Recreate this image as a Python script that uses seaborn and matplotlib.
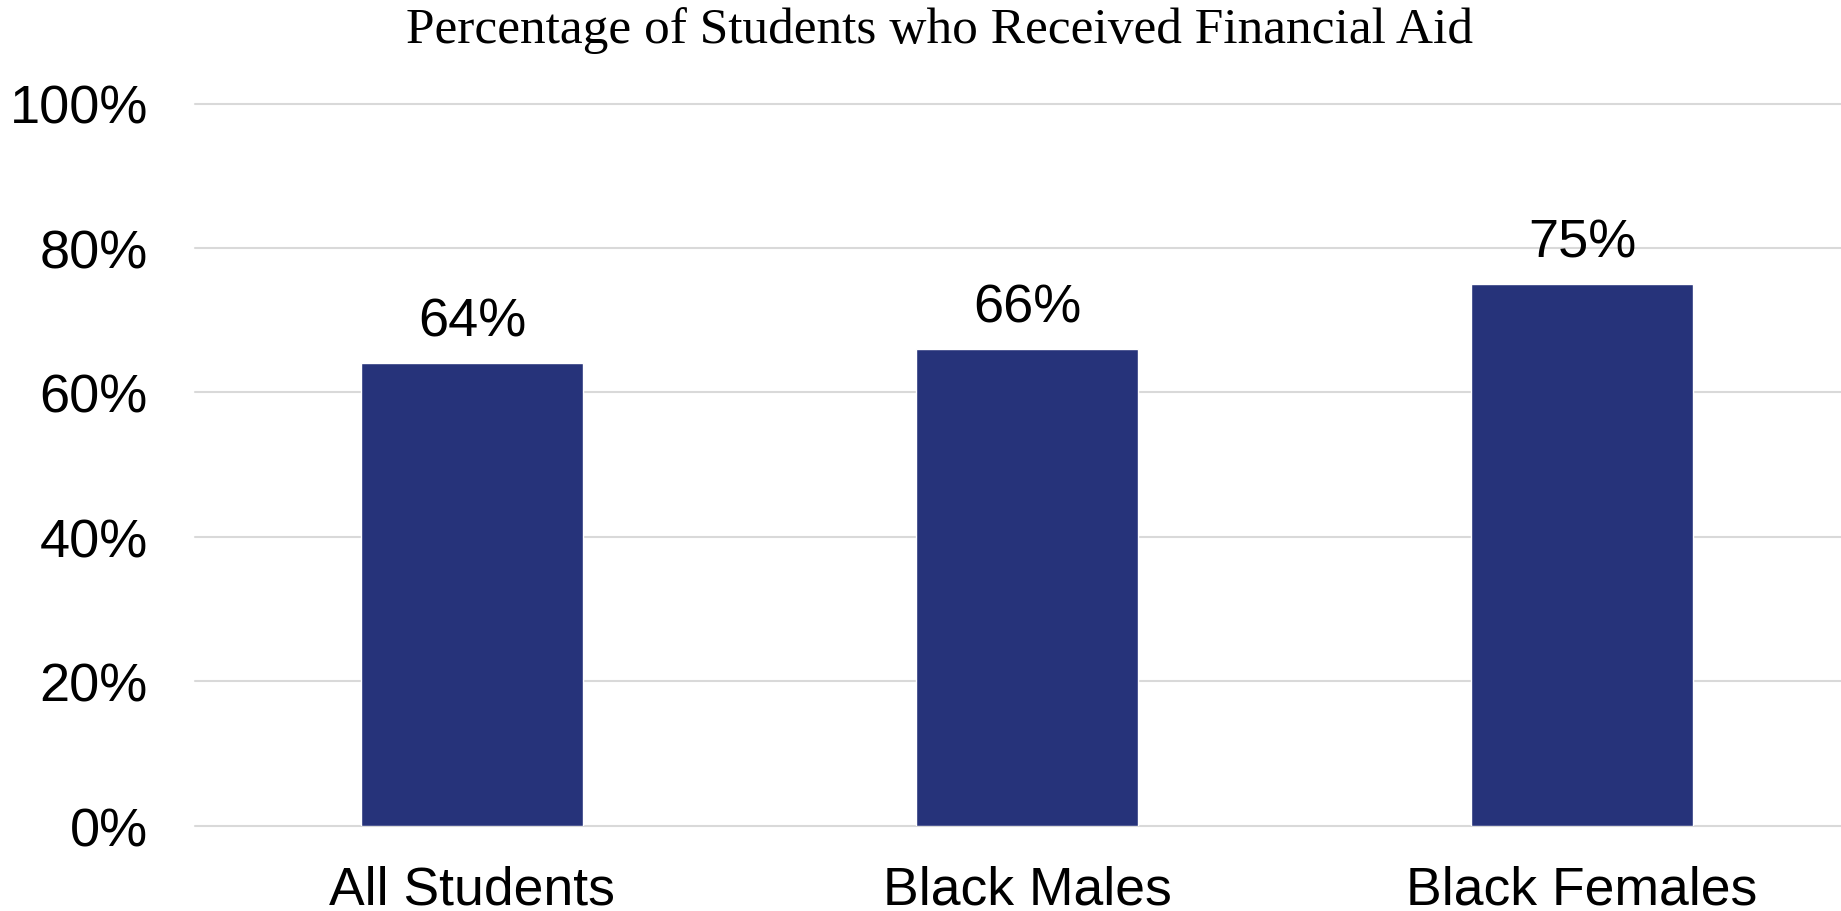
import matplotlib
matplotlib.use("Agg")
import matplotlib.pyplot as plt
import seaborn as sns
import pandas as pd

categories = ["All Students", "Black Males", "Black Females"]
aid_pct = [64, 66, 75]
y_ticks = [0, 20, 40, 60, 80, 100]
y_tick_labels = ["0%", "20%", "40%", "60%", "80%", "100%"]
title = "Percentage of Students who Received Financial Aid"

sns.set_theme(style="white")
plt.rcParams["font.family"] = ["Liberation Sans", "DejaVu Sans"]

df = pd.DataFrame({"group": categories, "pct": aid_pct})

W, H, DPI = 1841, 912, 100
fig = plt.figure(figsize=(W / DPI, H / DPI), dpi=DPI)
ax_left = 195 / W
ax_bottom = (H - 826.6) / H
ax_top = (H - 104.5) / H
ax = fig.add_axes([ax_left, ax_bottom, 1.0 - ax_left, ax_top - ax_bottom])

bar_color = "#26337A"
sns.barplot(data=df, x="group", y="pct", color=bar_color, width=0.4,
            saturation=1, ax=ax, zorder=3)

ax.set_ylim(0, 100)
ax.set_xlim(-0.5, 2.467)
ax.set_yticks(y_ticks)
ax.set_yticklabels(y_tick_labels)
ax.yaxis.grid(True, color="#d9d9d9", linewidth=1.5, zorder=0)
for gl in ax.get_ygridlines():
    gl.set_clip_on(False)
ax.xaxis.grid(False)
for s in ax.spines.values():
    s.set_visible(False)
ax.set_xlabel("")
ax.set_ylabel("")
ax.tick_params(axis="y", length=0, pad=34, labelsize=39, labelcolor="black")
ax.tick_params(axis="x", length=0, pad=28, labelsize=38.5, labelcolor="black")

for i, v in enumerate(aid_pct):
    ax.annotate(f"{v}%", xy=(i, v), xytext=(0, 12), textcoords="offset points",
                ha="center", va="bottom", fontsize=39, color="black")

fig.text(939 / W, 1 - 31 / H, title, ha="center", va="center",
         fontsize=37, family=["Liberation Serif", "DejaVu Serif"], color="black")

fig.savefig("out.png", dpi=DPI)
